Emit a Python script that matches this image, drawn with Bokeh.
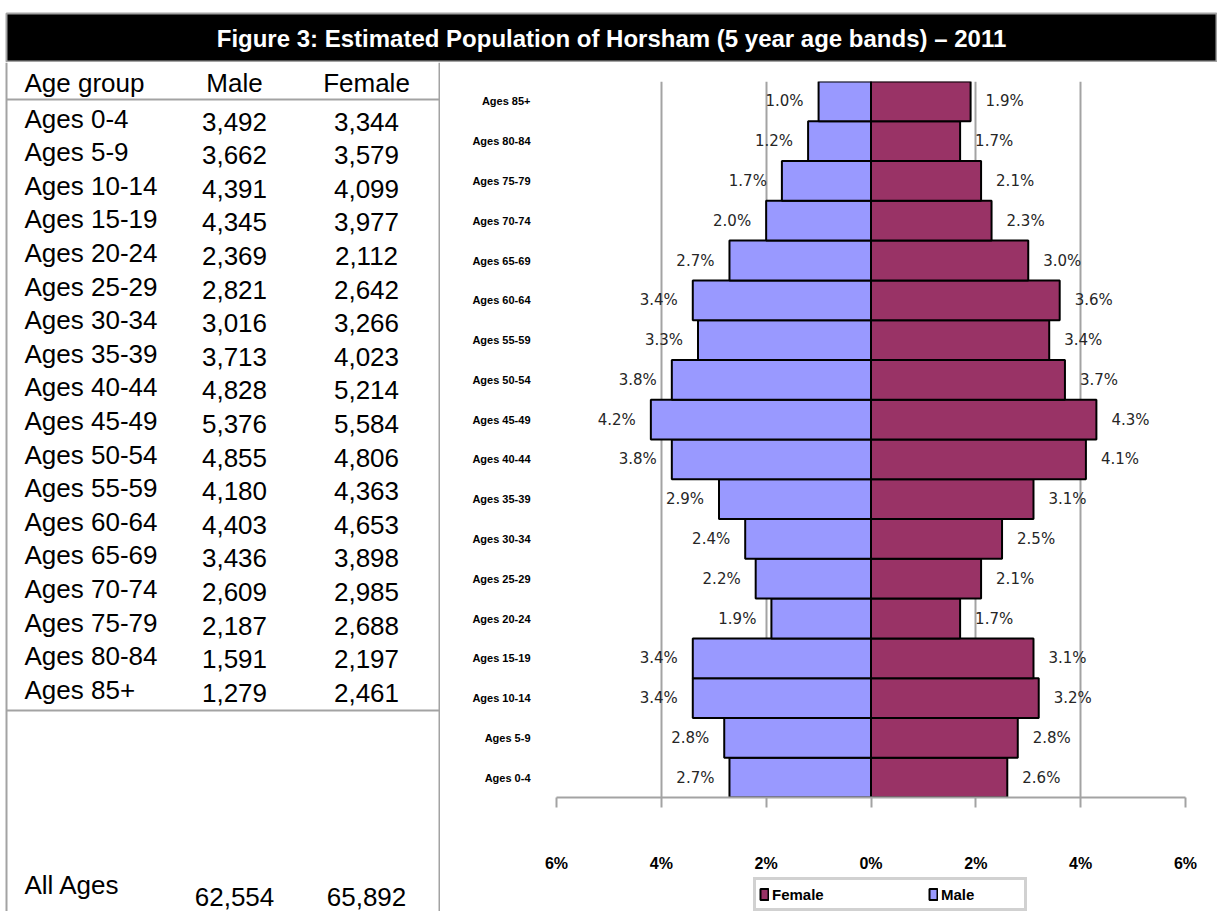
from bokeh.plotting import figure
from bokeh.layouts import column, row
from bokeh.models import ColumnDataSource, Range1d, FactorRange, Legend, LegendItem, FixedTicker
from bokeh.embed import file_html
from bokeh.resources import INLINE
from bokeh.core.properties import value

# ---------------- data ----------------
title_text = "Figure 3: Estimated Population of Horsham (5 year age bands) \u2013 2011"
header_labels = ["Age group", "Male", "Female"]
age_groups = ["Ages 0-4", "Ages 5-9", "Ages 10-14", "Ages 15-19", "Ages 20-24", "Ages 25-29",
              "Ages 30-34", "Ages 35-39", "Ages 40-44", "Ages 45-49", "Ages 50-54", "Ages 55-59",
              "Ages 60-64", "Ages 65-69", "Ages 70-74", "Ages 75-79", "Ages 80-84", "Ages 85+"]
male_counts = [3492, 3662, 4391, 4345, 2369, 2821, 3016, 3713, 4828, 5376, 4855, 4180,
               4403, 3436, 2609, 2187, 1591, 1279]
female_counts = [3344, 3579, 4099, 3977, 2112, 2642, 3266, 4023, 5214, 5584, 4806, 4363,
                 4653, 3898, 2985, 2688, 2197, 2461]
total_label = "All Ages"
male_total = 62554
female_total = 65892
male_pct = [2.7, 2.8, 3.4, 3.4, 1.9, 2.2, 2.4, 2.9, 3.8, 4.2, 3.8, 3.3, 3.4, 2.7, 2.0, 1.7, 1.2, 1.0]
female_pct = [2.6, 2.8, 3.2, 3.1, 1.7, 2.1, 2.5, 3.1, 4.1, 4.3, 3.7, 3.4, 3.6, 3.0, 2.3, 2.1, 1.7, 1.9]
x_ticks = [-6, -4, -2, 0, 2, 4, 6]
series_names = ["Female", "Male"]

MALE_COLOR = "#9999FF"
FEMALE_COLOR = "#993366"
GRAY = "#a3a3a3"
FONT = "Liberation Sans"

# ---------------- title bar ----------------
tf = figure(width=1217, height=62, x_range=Range1d(0, 1217), y_range=Range1d(62, 0),
            x_axis_type=None, y_axis_type=None, min_border=0, output_backend="svg",
            toolbar_location=None)
tf.frame_align = False
tf.outline_line_color = None
tf.quad(left=[6], right=[1216], top=[13], bottom=[61], fill_color="black",
        line_color=GRAY, line_width=2)
tf.text(x=[611], y=[38], text=[title_text], text_color="white", text_font=value(FONT),
        text_font_style="bold", text_font_size="24px", text_align="center",
        text_baseline="middle")

# ---------------- table ----------------
TOP, BOT = 62, 911
tb = figure(width=440, height=849, x_range=Range1d(0, 440), y_range=Range1d(BOT, TOP),
            x_axis_type=None, y_axis_type=None, min_border=0, output_backend="svg",
            toolbar_location=None)
tb.frame_align = False
tb.outline_line_color = None
tb.segment(x0=[6, 439, 6, 6], y0=[TOP, TOP, 99, 710], x1=[6, 439, 439, 439],
           y1=[BOT, BOT, 99, 710], line_color=GRAY, line_width=2)

common = dict(text_font=value(FONT), text_font_size="26px", text_color="black",
              text_baseline="middle")
tb.text(x=[24, 234, 366], y=[82, 82, 82], text=header_labels,
        text_align=["left", "center", "center"], **common)

n = len(age_groups)
row_y = [118 + i * 33.6 for i in range(n)]
num_y = [y + 3 for y in row_y]
tsrc = ColumnDataSource(dict(
    age=age_groups, ly=row_y, ny=num_y,
    m=[f"{v:,}" for v in male_counts], f=[f"{v:,}" for v in female_counts],
    lx=[24] * n, mx=[234] * n, fx=[366] * n))
tb.text(x="lx", y="ly", text="age", source=tsrc, text_align="left", **common)
tb.text(x="mx", y="ny", text="m", source=tsrc, text_align="center", **common)
tb.text(x="fx", y="ny", text="f", source=tsrc, text_align="center", **common)
tb.text(x=[24], y=[884], text=[total_label], text_align="left", **common)
tb.text(x=[234, 366], y=[896, 896], text=[f"{male_total:,}", f"{female_total:,}"],
        text_align="center", **common)

# ---------------- pyramid ----------------
pyr = figure(width=777, height=814, x_range=Range1d(-6, 6),
             y_range=FactorRange(factors=age_groups, range_padding=0),
             min_border_left=116, min_border_right=32, min_border_top=19,
             min_border_bottom=79, output_backend="svg", toolbar_location=None)
pyr.frame_align = False
pyr.outline_line_color = None
pyr.background_fill_color = "white"

src = ColumnDataSource(dict(
    age=age_groups,
    mleft=[-v for v in male_pct], zero=[0] * n, fright=female_pct,
    mlab=[f"{v:.1f}%" for v in male_pct], flab=[f"{v:.1f}%" for v in female_pct]))

pyr.hbar(y="age", left="mleft", right="zero", height=1.0, source=src,
         fill_color=MALE_COLOR, line_color="black", line_width=2)
pyr.hbar(y="age", left="zero", right="fright", height=1.0, source=src,
         fill_color=FEMALE_COLOR, line_color="black", line_width=2)

lab = dict(text_font=value("DejaVu Sans"), text_font_size="15px", text_color="#262626",
           text_baseline="middle")
pyr.text(x="mleft", y="age", text="mlab", source=src, x_offset=-15, text_align="right", **lab)
pyr.text(x="fright", y="age", text="flab", source=src, x_offset=15, text_align="left", **lab)

pyr.ygrid.visible = False
pyr.xgrid.ticker = FixedTicker(ticks=[t for t in x_ticks if t != 0])
pyr.xgrid.grid_line_color = GRAY
pyr.xgrid.grid_line_width = 2

pyr.xaxis.ticker = FixedTicker(ticks=x_ticks)
pyr.xaxis.major_label_overrides = {t: f"{abs(t)}%" for t in x_ticks}
pyr.xaxis.axis_line_color = GRAY
pyr.xaxis.axis_line_width = 2
pyr.xaxis.major_tick_line_color = GRAY
pyr.xaxis.major_tick_line_width = 2
pyr.xaxis.major_tick_out = 10
pyr.xaxis.major_tick_in = 0
pyr.xaxis.minor_tick_line_color = None
pyr.xaxis.major_label_standoff = 47
pyr.xaxis.major_label_text_font = FONT
pyr.xaxis.major_label_text_font_style = "bold"
pyr.xaxis.major_label_text_font_size = "16px"
pyr.xaxis.major_label_text_color = "black"

pyr.yaxis.axis_line_color = None
pyr.yaxis.major_tick_line_color = None
pyr.yaxis.minor_tick_line_color = None
pyr.yaxis.major_label_standoff = 20
pyr.yaxis.major_label_text_font = FONT
pyr.yaxis.major_label_text_font_style = "bold"
pyr.yaxis.major_label_text_font_size = "11px"
pyr.yaxis.major_label_text_color = "black"

# ---------------- legend strip ----------------
lg = figure(width=777, height=35, x_range=Range1d(0, 1), y_range=Range1d(0, 1),
            x_axis_type=None, y_axis_type=None, min_border=0, output_backend="svg",
            toolbar_location=None)
lg.frame_align = False
lg.outline_line_color = None
# legend proxies: one zero-size bar each, below the visible range
proxy = ColumnDataSource(dict(y=[-5], left=[0], right=[0]))
lf = lg.hbar(y="y", left="left", right="right", height=1.0, source=proxy,
             fill_color=FEMALE_COLOR, line_color="black", line_width=2)
lm = lg.hbar(y="y", left="left", right="right", height=1.0, source=proxy,
             fill_color=MALE_COLOR, line_color="black", line_width=2)
legend = Legend(items=[LegendItem(label=series_names[0], renderers=[lf]),
                       LegendItem(label=series_names[1], renderers=[lm])],
                orientation="horizontal", location=(313, 0), margin=0,
                border_line_color=GRAY, border_line_width=3, padding=3, spacing=76,
                glyph_width=10, glyph_height=14, label_standoff=3, label_width=80,
                label_height=22, label_text_color="black",
                label_text_font=FONT, label_text_font_style="bold",
                label_text_font_size="15px", background_fill_alpha=1.0)
lg.add_layout(legend, "center")

layout = column(tf, row(tb, column(pyr, lg)))
open("out.html", "w").write(file_html(layout, INLINE))
